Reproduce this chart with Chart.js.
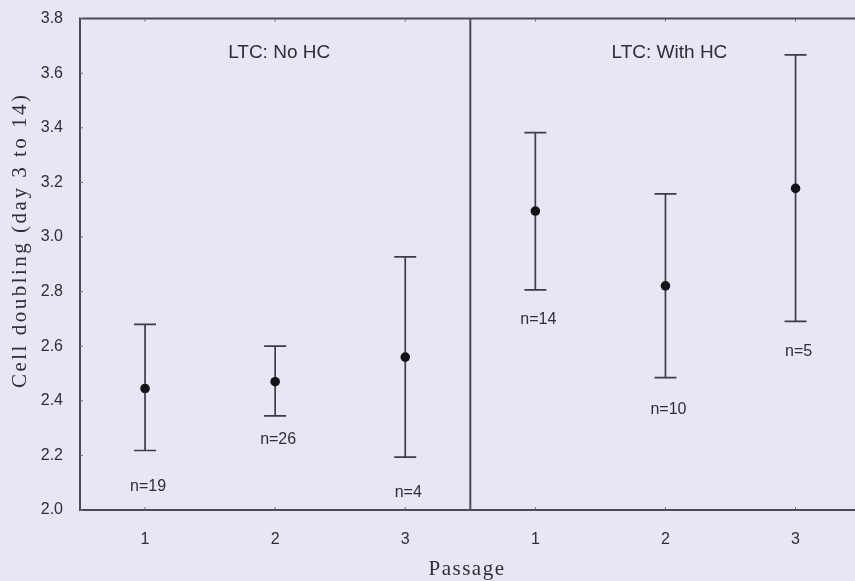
<!DOCTYPE html>
<html>
<head>
<meta charset="utf-8">
<script src="https://cdn.jsdelivr.net/npm/chart.js@4"></script>
<style>
  html, body { margin: 0; padding: 0; background: #e7e6f5; overflow: hidden; }
  #chart { display: block; }
</style>
</head>
<body>
<canvas id="chart" width="855" height="581"></canvas>
<script>
// Cell doubling (day 3 to 14) by passage, long-term culture with / without HC
const groups = ['LTC: No HC', 'LTC: With HC'];
const passages = ['1', '2', '3'];

const noHcMean = [2.445, 2.47, 2.56];
const noHcUpper = [2.68, 2.60, 2.927];
const noHcLower = [2.218, 2.345, 2.194];
const noHcN = [19, 26, 4];
const noHcLabelY = [2.084, 2.259, 2.063];

const withHcMean = [3.095, 2.821, 3.178];
const withHcUpper = [3.382, 3.158, 3.667];
const withHcLower = [2.806, 2.485, 2.691];
const withHcN = [14, 10, 5];
const withHcLabelY = [2.697, 2.367, 2.579];

const yTicks = [2.0, 2.2, 2.4, 2.6, 2.8, 3.0, 3.2, 3.4, 3.6, 3.8];

const INK = '#3c3c44';
const TEXT = '#2e2e34';
const SANS = '"Liberation Sans", Arial, sans-serif';
const SERIF = '"Liberation Serif", "Times New Roman", serif';

// flatten the two panels onto one x axis: panel g, passage p -> g*3 + p + 1
const means = [noHcMean, withHcMean];
const uppers = [noHcUpper, withHcUpper];
const lowers = [noHcLower, withHcLower];
const counts = [noHcN, withHcN];
const labelYs = [noHcLabelY, withHcLabelY];

const points = [];
const bars = [];
const nLabels = [];
groups.forEach((g, gi) => {
  passages.forEach((p, pi) => {
    const x = gi * passages.length + pi + 1;
    points.push({ x, y: means[gi][pi] });
    bars.push({ x, lo: lowers[gi][pi], hi: uppers[gi][pi] });
    nLabels.push({ x, y: labelYs[gi][pi], text: 'n=' + counts[gi][pi] });
  });
});

const panelPlugin = {
  id: 'panels',
  beforeDraw(chart) {
    const ctx = chart.ctx;
    ctx.save();
    ctx.fillStyle = '#e7e6f5';
    ctx.fillRect(0, 0, chart.width, chart.height);
    ctx.restore();
  },
  beforeDatasetsDraw(chart) {
    const { ctx, chartArea: a, scales: { x, y } } = chart;
    ctx.save();
    // frame (right side runs off the picture)
    ctx.strokeStyle = '#4a4a52';
    ctx.lineWidth = 2;
    ctx.beginPath();
    ctx.moveTo(chart.width, a.top);
    ctx.lineTo(a.left, a.top);
    ctx.lineTo(a.left, a.bottom);
    ctx.lineTo(chart.width, a.bottom);
    const div = x.getPixelForValue(passages.length + 0.5);
    ctx.moveTo(div, a.top);
    ctx.lineTo(div, a.bottom);
    ctx.stroke();

    // small inner tick marks
    ctx.lineWidth = 1;
    ctx.strokeStyle = '#6a6a72';
    ctx.beginPath();
    yTicks.forEach(v => {
      const py = y.getPixelForValue(v);
      ctx.moveTo(a.left, py);
      ctx.lineTo(a.left + 3, py);
    });
    points.forEach(pt => {
      const px = x.getPixelForValue(pt.x);
      ctx.moveTo(px, a.top);
      ctx.lineTo(px, a.top + 3);
      ctx.moveTo(px, a.bottom);
      ctx.lineTo(px, a.bottom - 3);
    });
    ctx.stroke();

    // error bars
    ctx.strokeStyle = INK;
    ctx.lineWidth = 1.7;
    ctx.beginPath();
    bars.forEach(b => {
      const px = x.getPixelForValue(b.x);
      const pHi = y.getPixelForValue(b.hi);
      const pLo = y.getPixelForValue(b.lo);
      ctx.moveTo(px, pHi);
      ctx.lineTo(px, pLo);
      ctx.moveTo(px - 11, pHi);
      ctx.lineTo(px + 11, pHi);
      ctx.moveTo(px - 11, pLo);
      ctx.lineTo(px + 11, pLo);
    });
    ctx.stroke();
    ctx.restore();
  },
  afterDraw(chart) {
    const { ctx, chartArea: a, scales: { x, y } } = chart;
    ctx.save();
    ctx.fillStyle = TEXT;
    ctx.textAlign = 'center';
    ctx.textBaseline = 'middle';

    // n labels
    ctx.font = '16px ' + SANS;
    nLabels.forEach(l => {
      ctx.fillText(l.text, x.getPixelForValue(l.x) + 3, y.getPixelForValue(l.y));
    });

    // panel titles
    ctx.font = '19px ' + SANS;
    groups.forEach((g, gi) => {
      ctx.fillText(g, x.getPixelForValue(gi * 3 + 2) + 4, y.getPixelForValue(3.675));
    });

    // axis titles (serif, loosely spaced like the original)
    ctx.font = '21px ' + SERIF;
    ctx.letterSpacing = '1.5px';
    ctx.textBaseline = 'alphabetic';
    ctx.fillText('Passage', 467, 575);

    ctx.letterSpacing = '2.5px';
    ctx.translate(26, (a.top + a.bottom) / 2 - 24);
    ctx.rotate(-Math.PI / 2);
    ctx.fillText('Cell doubling (day 3 to 14)', 0, 0);
    ctx.restore();
  }
};

new Chart(document.getElementById('chart'), {
  type: 'scatter',
  data: {
    datasets: [{
      data: points,
      pointRadius: 4.8,
      pointHoverRadius: 4.8,
      pointBackgroundColor: '#141418',
      pointBorderColor: '#141418',
      pointBorderWidth: 0,
    }],
  },
  options: {
    responsive: false,
    animation: false,
    events: [],
    layout: { padding: { top: 15, left: 0, right: 0, bottom: 0 } },
    scales: {
      x: {
        type: 'linear',
        min: 0.5,
        max: 6.42,
        afterBuildTicks: scale => {
          scale.ticks = points.map(p => ({ value: p.x }));
        },
        afterFit: scale => { scale.height = 71; },
        grid: { display: false },
        border: { display: false },
        ticks: {
          padding: 12,
          color: TEXT,
          font: { family: SANS, size: 16 },
          callback: v => passages[(v - 1) % passages.length],
        },
      },
      y: {
        min: 2.0,
        max: 3.8,
        afterBuildTicks: scale => {
          scale.ticks = yTicks.map(v => ({ value: v }));
        },
        afterFit: scale => { scale.width = 80; },
        grid: { display: false },
        border: { display: false },
        ticks: {
          padding: 9,
          color: TEXT,
          font: { family: SANS, size: 16 },
          callback: v => v.toFixed(1),
        },
      },
    },
    plugins: {
      legend: { display: false },
      tooltip: { enabled: false },
    },
  },
  plugins: [panelPlugin],
});
</script>
</body>
</html>
